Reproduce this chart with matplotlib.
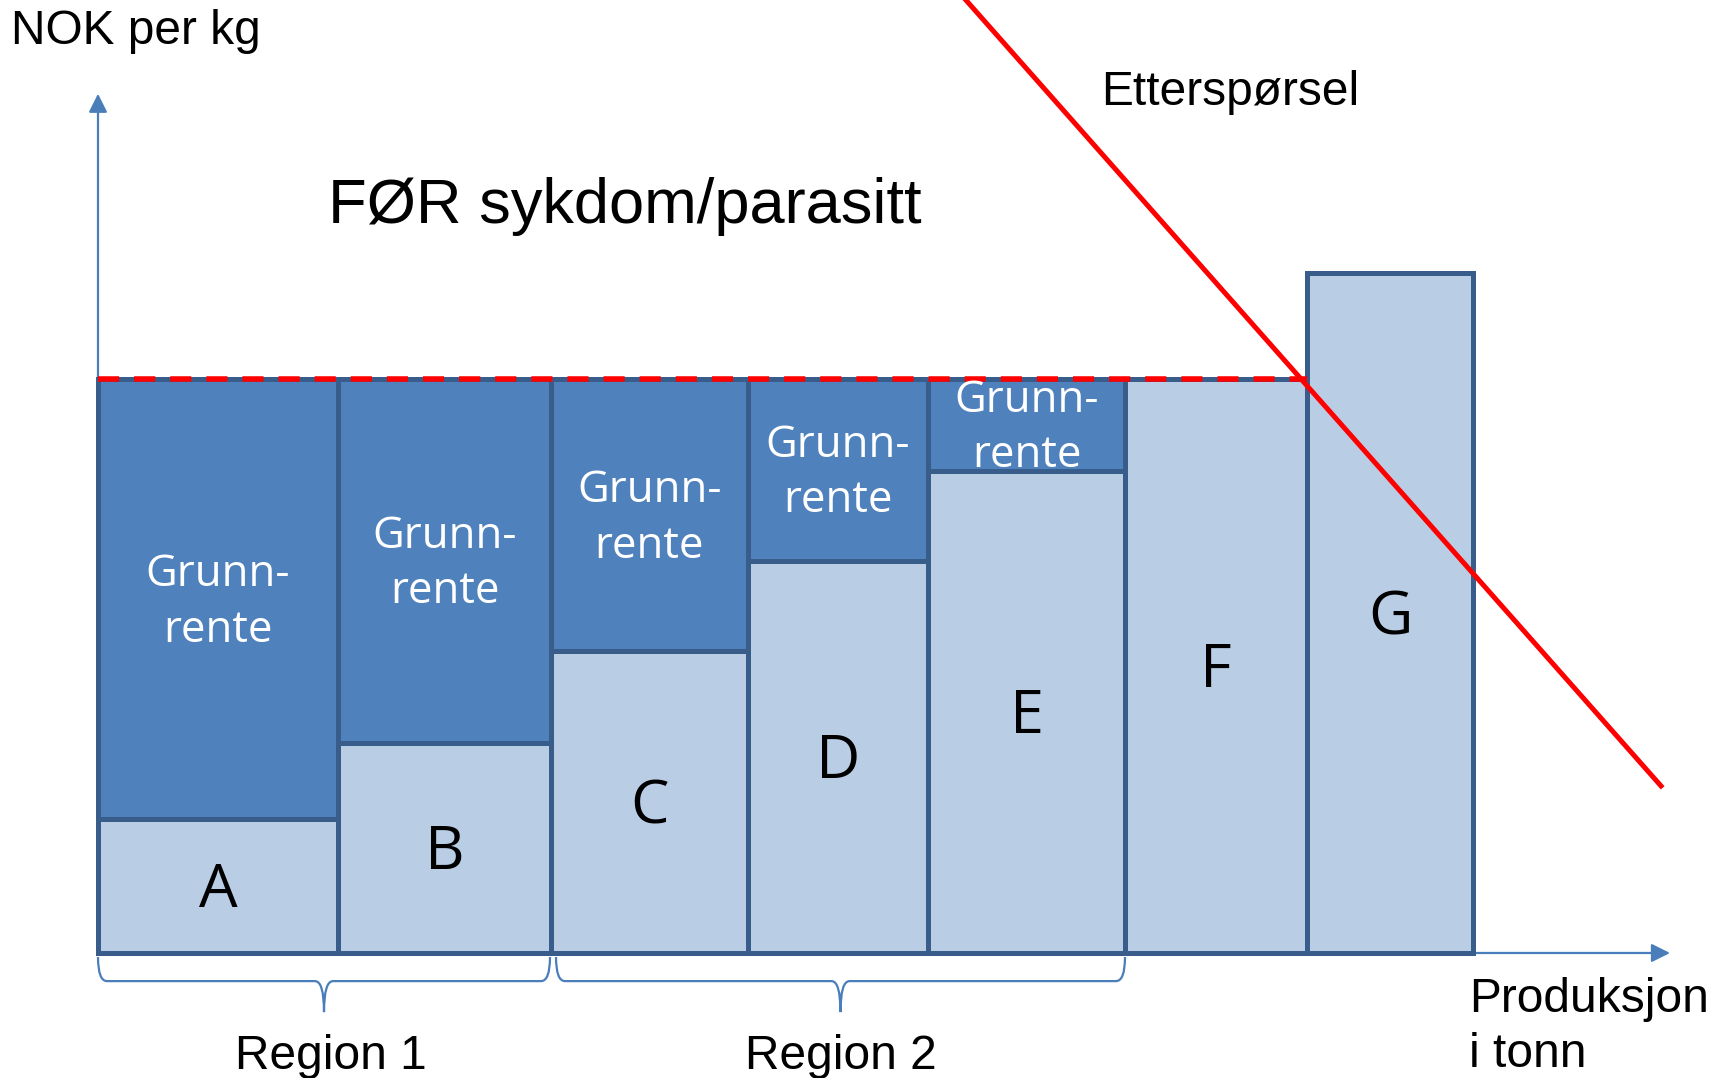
import matplotlib
matplotlib.use("Agg")
import matplotlib.pyplot as plt
import numpy as np
from matplotlib.path import Path
from matplotlib.patches import PathPatch

# ---------------- data ----------------
producers = ["A", "B", "C", "D", "E", "F", "G"]
widths = [24.0, 21.3, 19.7, 18.0, 19.7, 18.2, 16.6]          # production (tonnes, arbitrary units)
costs = [23.3, 36.6, 52.6, 68.3, 84.0, 100.0, 118.5]        # cost per kg (NOK)
price = 100.0                                                # market price (NOK per kg)
demand_q = [86.8, 156.3]
demand_p = [166.0, 29.1]
rent_label = "Grunn-\nrente"
regions = ["Region 1", "Region 2"]
region_members = [[0, 1], [2, 3, 4]]
title = "FØR sykdom/parasitt"
ylabel = "NOK per kg"
xlabel = "Produksjon\ni tonn"
demand_label = "Etterspørsel"

# ---------------- style ----------------
LIGHT = "#B9CDE5"
DARK = "#4F81BD"
EDGE = "#385D8A"
AXC = "#4A7EBB"
RED = "#FF0000"
SANS = ["Liberation Sans", "DejaVu Sans"]
BOXF = ["Open Sans", "DejaVu Sans"]
region_label_shift = [0.7, 0.0]

fig = plt.figure(figsize=(17.28, 10.78), dpi=100)
ax = fig.add_axes([0, 0, 1, 1])
ax.set_xlim(-9.8, 163.0)
ax.set_ylim(-21.78, 166.03)
ax.axis("off")

widths_a = np.array(widths)
costs_a = np.array(costs)
lefts = np.concatenate([[0], np.cumsum(widths_a)[:-1]])
rights = lefts + widths_a

# axes arrows
ax.annotate("", xy=(0, 149.7), xytext=(0, 0),
            arrowprops=dict(arrowstyle="-|>", color=AXC, lw=1.6, mutation_scale=28,
                            shrinkA=0, shrinkB=0), zorder=1)
ax.annotate("", xy=(157.2, 0), xytext=(0, 0),
            arrowprops=dict(arrowstyle="-|>", color=AXC, lw=1.6, mutation_scale=28,
                            shrinkA=0, shrinkB=0), zorder=1)

# cost bars
ax.bar(lefts, costs_a, width=widths_a, align="edge", color=LIGHT,
       edgecolor=EDGE, linewidth=3.6, zorder=2)
# rent bars (where price exceeds cost)
rent_mask = costs_a < price
ax.bar(lefts[rent_mask], price - costs_a[rent_mask], bottom=costs_a[rent_mask],
       width=widths_a[rent_mask], align="edge", color=DARK, edgecolor=EDGE,
       linewidth=3.6, zorder=2)

# labels
for i, name in enumerate(producers):
    cx = lefts[i] + widths_a[i] / 2
    ax.text(cx, costs_a[i] / 2 - 0.9, name, ha="center", va="center", fontsize=44,
            family=BOXF, color="black", zorder=5)
    if rent_mask[i]:
        ax.text(cx, (costs_a[i] + price) / 2 - 0.6, rent_label, ha="center", va="center",
                fontsize=31.5, family=BOXF, color="white", linespacing=1.33, zorder=5)

# dashed price line
ax.plot([0, rights[5]], [price, price], color=RED, lw=4.0, dashes=(3.8, 2.7), zorder=4,
        dash_capstyle="butt")

# demand line
ax.plot(demand_q, demand_p, color=RED, lw=3.6, zorder=4, clip_on=False)

# braces
def brace(x0, x1, ytop=-0.7, ymid=-4.9, ytip=-10.3, r=0.9):
    xc = (x0 + x1) / 2
    verts = [(x0, ytop), (x0, ymid), (x0 + r, ymid),
             (xc - r, ymid), (xc, ymid), (xc, ytip),
             (xc, ymid), (xc + r, ymid),
             (x1 - r, ymid), (x1, ymid), (x1, ytop)]
    codes = [Path.MOVETO, Path.CURVE3, Path.CURVE3,
             Path.LINETO, Path.CURVE3, Path.CURVE3,
             Path.CURVE3, Path.CURVE3,
             Path.LINETO, Path.CURVE3, Path.CURVE3]
    ax.add_patch(PathPatch(Path(verts, codes), facecolor="none", edgecolor=AXC,
                           lw=1.6, zorder=3))
    return xc

for name, members, shift in zip(regions, region_members, region_label_shift):
    x0 = lefts[members[0]] + (0.5 if members[0] > 0 else 0.0)
    x1 = rights[members[-1]] - (0.1 if members[-1] < 2 else 0.0)
    xc = brace(x0, x1)
    ax.text(xc + shift, -20.2, name, ha="center", va="baseline", fontsize=34.5,
            family=SANS, color="black")

# texts
ax.text(-8.7, 158.4, ylabel, ha="left", va="baseline", fontsize=34.5, family=SANS)
ax.text(52.7, 127.2, title, ha="center", va="baseline", fontsize=45.5, family=SANS)
ax.text(100.3, 147.8, demand_label, ha="left", va="baseline", fontsize=34.5, family=SANS)
ax.text(137.1, -10.3, xlabel.split("\n")[0], ha="left", va="baseline", fontsize=34.5, family=SANS)
ax.text(137.1, -19.9, xlabel.split("\n")[1], ha="left", va="baseline", fontsize=34.5, family=SANS)

fig.savefig("out.png", dpi=100)
